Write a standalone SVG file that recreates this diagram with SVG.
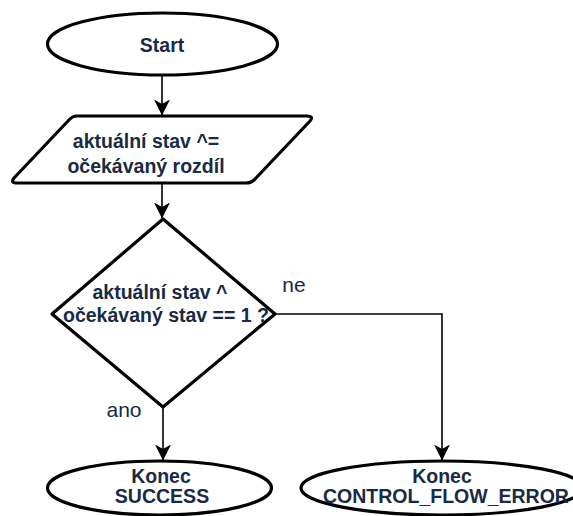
<svg xmlns="http://www.w3.org/2000/svg" width="573" height="516" viewBox="0 0 573 516">
  <style>
    .shape { fill: #ffffff; stroke: #000000; stroke-width: 3.2; stroke-linejoin: round; }
    .edge { fill: none; stroke: #000000; stroke-width: 1.6; }
    .label { font-family: "Liberation Sans", Arial, Helvetica, sans-serif; font-weight: bold; font-size: 19.5px; fill: #182a45; text-anchor: middle; }
    .branch { font-family: "Liberation Sans", Arial, Helvetica, sans-serif; font-size: 21px; fill: #182a45; text-anchor: middle; }
  </style>
  <defs>
    <marker id="arrow" viewBox="0 0 16 16" refX="15.5" refY="8" markerWidth="16" markerHeight="16" markerUnits="userSpaceOnUse" orient="auto">
      <path d="M0,0 L16,8 L0,16 L4.5,8 Z" fill="#000000"/>
    </marker>
  </defs>

  <!-- connectors -->
  <g id="connectors">
    <path class="edge" d="M162,75 L162,115" marker-end="url(#arrow)"/>
    <path class="edge" d="M162,184 L162,218" marker-end="url(#arrow)"/>
    <path class="edge" d="M163,408 L163,460" marker-end="url(#arrow)"/>
    <path class="edge" d="M275,314 L442,314 L442,460" marker-end="url(#arrow)"/>
    <text class="branch" x="124" y="417">ano</text>
    <text class="branch" x="294" y="292">ne</text>
  </g>

  <!-- start terminator -->
  <g id="start">
    <ellipse class="shape" cx="162.5" cy="44" rx="115" ry="31"/>
    <text class="label" x="162" y="52">Start</text>
  </g>

  <!-- state update (I/O parallelogram) -->
  <g id="update">
    <path class="shape" d="M77,116 L307,116 Q314,116 310,121 L256,178 Q252,183 246,183 L17,183 Q10,183 14,178 L68,121 Q72,116 77,116 Z"/>
    <text class="label" x="146" y="148">aktuální stav ^=</text>
    <text class="label" x="146" y="173">očekávaný rozdíl</text>
  </g>

  <!-- decision -->
  <g id="decision">
    <path class="shape" d="M163,219 L275,314 L163,407 L52,314 Z"/>
    <text class="label" x="160" y="299">aktuální stav ^</text>
    <text class="label" x="166" y="322">očekávaný stav == 1 ?</text>
  </g>

  <!-- end: success -->
  <g id="end-success">
    <ellipse class="shape" cx="159.5" cy="488" rx="112" ry="27"/>
    <text class="label" x="161" y="483">Konec</text>
    <text class="label" x="162" y="503">SUCCESS</text>
  </g>

  <!-- end: control flow error -->
  <g id="end-error">
    <ellipse class="shape" cx="442" cy="488" rx="141" ry="27"/>
    <text class="label" x="442" y="483">Konec</text>
    <text class="label" x="446" y="503">CONTROL_FLOW_ERROR</text>
  </g>
</svg>
